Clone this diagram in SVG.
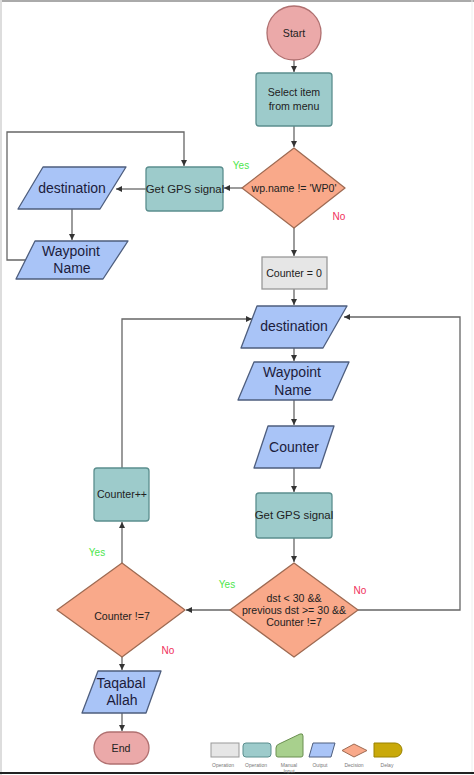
<svg xmlns="http://www.w3.org/2000/svg" width="474" height="775" viewBox="0 0 474 775">
<defs>
<marker id="ah" markerWidth="8" markerHeight="8" refX="6" refY="3" orient="auto" markerUnits="userSpaceOnUse">
<path d="M0,0 L6,3 L0,6 Z" fill="#333"/>
</marker>
<style>
.op{fill:#9DCBCB;stroke:#5B8E8E;stroke-width:1.3}
.io{fill:#A9C4F7;stroke:#4E5E7E;stroke-width:1.3;stroke-linejoin:round}
.dec{fill:#F9A98A;stroke:#9E6A52;stroke-width:1.3;stroke-linejoin:round}
.term{fill:#EBA9A9;stroke:#B07070;stroke-width:1.3}
.gray{fill:#E6E6E6;stroke:#999;stroke-width:1.3}
.t{font-family:"Liberation Sans",Arial,sans-serif;font-size:10.6px;fill:#222;text-anchor:middle}
.tg{font-family:"Liberation Sans",Arial,sans-serif;font-size:11.4px;fill:#222;text-anchor:middle}
.tl{font-family:"Liberation Sans",Arial,sans-serif;font-size:14px;fill:#1C1C3C;text-anchor:middle}
.yes{font-family:"Liberation Sans",Arial,sans-serif;font-size:10px;fill:#4CE64C;text-anchor:middle}
.no{font-family:"Liberation Sans",Arial,sans-serif;font-size:10px;fill:#F0305A;text-anchor:middle}
.lg{font-family:"Liberation Sans",Arial,sans-serif;font-size:5px;fill:#777;text-anchor:middle}
.c{fill:none;stroke:#666;stroke-width:1.3}
</style>
</defs>
<rect x="0" y="0" width="474" height="775" fill="#fff"/>
<line x1="0" y1="1" x2="474" y2="1" stroke="#aaa" stroke-width="2"/>
<line x1="1" y1="0" x2="1" y2="775" stroke="#ddd" stroke-width="2"/>
<line x1="472" y1="0" x2="472" y2="775" stroke="#eee" stroke-width="1"/>
<line x1="0" y1="773" x2="474" y2="773" stroke="#222" stroke-width="2"/>

<g id="connectors">
<path class="c" d="M294,60 V72" marker-end="url(#ah)"/>
<path class="c" d="M294,126 V147" marker-end="url(#ah)"/>
<path class="c" d="M242,188 H224" marker-end="url(#ah)"/>
<path class="c" d="M146,189 H116" marker-end="url(#ah)"/>
<path class="c" d="M72,209 V240" marker-end="url(#ah)"/>
<path class="c" d="M26,260 H7 V132 H184 V166" marker-end="url(#ah)"/>
<path class="c" d="M294,228 V256" marker-end="url(#ah)"/>
<path class="c" d="M294,289 V305" marker-end="url(#ah)"/>
<path class="c" d="M294,348 V361" marker-end="url(#ah)"/>
<path class="c" d="M294,400 V425" marker-end="url(#ah)"/>
<path class="c" d="M294,468 V492" marker-end="url(#ah)"/>
<path class="c" d="M294,538 V562" marker-end="url(#ah)"/>
<path class="c" d="M230,610 H186" marker-end="url(#ah)"/>
<path class="c" d="M358,610 H460 V317 H344" marker-end="url(#ah)"/>
<path class="c" d="M122,563 V522" marker-end="url(#ah)"/>
<path class="c" d="M122,468 V319 H252" marker-end="url(#ah)"/>
<path class="c" d="M122,657 V670" marker-end="url(#ah)"/>
<path class="c" d="M122,713 V731" marker-end="url(#ah)"/>
</g>

<g id="start">
<circle class="term" cx="294" cy="33" r="27"/>
<text class="t" x="294" y="37">Start</text>
</g>
<g id="select">
<rect class="op" x="256" y="73" width="76" height="53" rx="3"/>
<text class="t" x="294" y="96">Select item</text>
<text class="t" x="294" y="110">from menu</text>
</g>
<g id="dec1">
<polygon class="dec" points="294,148 345,188 294,228 242,188"/>
<text class="t" x="294" y="192">wp.name != 'WP0'</text>
</g>
<g id="gps1">
<rect class="op" x="146" y="167" width="77" height="44" rx="3"/>
<text class="tg" x="185" y="193">Get GPS signal</text>
</g>
<g id="dest1">
<polygon class="io" points="43,167 126,167 100,209 18,209"/>
<text class="tl" x="72" y="193">destination</text>
</g>
<g id="wp1">
<polygon class="io" points="35,241 128,241 103,279 16,279"/>
<text class="tl" x="71" y="256">Waypoint</text>
<text class="tl" x="72" y="273">Name</text>
</g>
<g id="counter0">
<rect class="gray" x="262" y="257" width="65" height="32"/>
<text class="t" x="294" y="277">Counter = 0</text>
</g>
<g id="dest2">
<polygon class="io" points="257,306 347,306 323,348 241,348"/>
<text class="tl" x="294" y="331">destination</text>
</g>
<g id="wp2">
<polygon class="io" points="254,362 349,362 332,400 238,400"/>
<text class="tl" x="292" y="377">Waypoint</text>
<text class="tl" x="293" y="395">Name</text>
</g>
<g id="counter">
<polygon class="io" points="268,426 334,426 320,468 254,468"/>
<text class="tl" x="294" y="452">Counter</text>
</g>
<g id="gps2">
<rect class="op" x="256" y="493" width="76" height="45" rx="3"/>
<text class="tg" x="294" y="519">Get GPS signal</text>
</g>
<g id="dec2">
<polygon class="dec" points="294,563 358,610 294,657 230,610"/>
<text class="t" x="294" y="602">dst &lt; 30 &amp;&amp;</text>
<text class="t" x="294" y="614">previous dst &gt;= 30 &amp;&amp;</text>
<text class="t" x="294" y="626">Counter !=7</text>
</g>
<g id="dec3">
<polygon class="dec" points="122,563 185,610 122,657 57,610"/>
<text class="t" x="122" y="620">Counter !=7</text>
</g>
<g id="counterpp">
<rect class="op" x="94" y="468" width="55" height="53" rx="3"/>
<text class="t" x="122" y="498">Counter++</text>
</g>
<g id="taqabal">
<polygon class="io" points="98,671 161,671 146,713 82,713"/>
<text class="tl" x="121" y="688">Taqabal</text>
<text class="tl" x="122" y="705">Allah</text>
</g>
<g id="end">
<rect class="term" x="94" y="732" width="55" height="32" rx="16"/>
<text class="t" x="121" y="752">End</text>
</g>

<g id="labels">
<text class="yes" x="241" y="169">Yes</text>
<text class="no" x="339" y="220">No</text>
<text class="yes" x="227" y="588">Yes</text>
<text class="no" x="360" y="594">No</text>
<text class="yes" x="97" y="556">Yes</text>
<text class="no" x="168" y="654">No</text>
</g>

<g id="legend">
<rect x="211" y="743" width="28" height="14" fill="#E6E6E6" stroke="#999" stroke-width="1"/>
<rect x="243" y="743" width="28" height="14" rx="3" fill="#9DCBCB" stroke="#5B8E8E" stroke-width="1"/>
<path d="M276,748 Q276,745 279,744 L300,734 Q303,733 303,736 V755 Q303,757 301,757 H278 Q276,757 276,755 Z" fill="#A8D08D" stroke="#6A8F50" stroke-width="1"/>
<polygon points="313,743 335,743 331,757 309,757" fill="#A9C4F7" stroke="#4E5E7E" stroke-width="1" stroke-linejoin="round"/>
<polygon points="354,744 367,750.5 354,757 342,750.5" fill="#F9A98A" stroke="#9E6A52" stroke-width="1" stroke-linejoin="round"/>
<path d="M374,743 H395 A7,7 0 0 1 395,757 H374 Z" fill="#C9A90A" stroke="#9A8200" stroke-width="1"/>
<text class="lg" x="223" y="767">Operation</text>
<text class="lg" x="256" y="767">Operation</text>
<text class="lg" x="289" y="767">Manual</text>
<text class="lg" x="289" y="773">Input</text>
<text class="lg" x="320" y="767">Output</text>
<text class="lg" x="354" y="767">Decision</text>
<text class="lg" x="387" y="767">Delay</text>
</g>
</svg>
